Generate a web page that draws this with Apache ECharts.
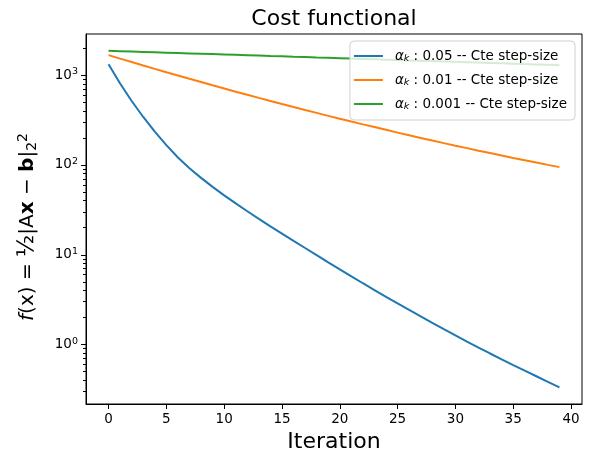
<!DOCTYPE html>
<html lang="en">
<head>
<meta charset="UTF-8">
<title>Cost functional</title>
<script src="https://cdn.jsdelivr.net/npm/echarts@6/dist/echarts.min.js"></script>
<style>
  body { margin: 0; background: #fff; }
  #chart { width: 591px; height: 463px; }
</style>
</head>
<body>
<div id="chart"></div>
<script>
// iteration index (x axis)
var iterations = [0, 1, 2, 3, 4, 5, 6, 7, 8, 9, 10, 11, 12, 13, 14, 15, 16, 17, 18, 19,
                  20, 21, 22, 23, 24, 25, 26, 27, 28, 29, 30, 31, 32, 33, 34, 35, 36, 37, 38, 39];

// cost for each step size
var cost005 = [1325, 807, 515, 342, 235, 166, 121, 92.0, 71.8, 57.0,
               45.9, 37.3, 30.5, 25.1, 20.7, 17.2, 14.3, 11.9, 9.89, 8.24,
               6.89, 5.75, 4.82, 4.05, 3.40, 2.87, 2.43, 2.06, 1.75, 1.49,
               1.27, 1.08, 0.927, 0.796, 0.686, 0.592, 0.512, 0.444, 0.385, 0.334];
var cost001 = [1671, 1528, 1399, 1281, 1175, 1078, 990, 910, 837, 770,
               710, 654, 604, 558, 516, 477, 442, 409, 380, 352,
               327, 304, 283, 264, 246, 229, 214, 200, 187, 175,
               164, 154, 144, 135.5, 127.4, 119.8, 112.8, 106.3, 100.2, 94.6];
var cost0001 = [1866, 1848, 1831, 1814, 1797, 1780, 1763, 1747, 1730, 1714,
                1698, 1682, 1666, 1651, 1635, 1620, 1604, 1589, 1574, 1560,
                1545, 1530, 1516, 1502, 1488, 1474, 1460, 1446, 1433, 1419,
                1406, 1393, 1380, 1367, 1354, 1341, 1328, 1316, 1304, 1292];

var seriesNames = ['0.05', '0.01', '0.001'];
var colors = ['#1f77b4', '#ff7f0e', '#2ca02c'];

var xTicks = [0, 5, 10, 15, 20, 25, 30, 35, 40];
var yTicks = [1, 10, 100, 1000];
var yMinorTicks = [0.3, 0.4, 0.5, 0.6, 0.7, 0.8, 0.9,
                   2, 3, 4, 5, 6, 7, 8, 9,
                   20, 30, 40, 50, 60, 70, 80, 90,
                   200, 300, 400, 500, 600, 700, 800, 900, 2000];

var font = 'DejaVu Sans';

function pairs(ys) {
    return iterations.map(function (x, i) { return [x, ys[i]]; });
}

var chart = echarts.init(document.getElementById('chart'));

var lineSeries = [cost005, cost001, cost0001].map(function (ys, i) {
    return {
        name: seriesNames[i],
        type: 'line',
        data: pairs(ys),
        showSymbol: false,
        symbol: 'none',
        lineStyle: { color: colors[i], width: 2 },
        itemStyle: { color: colors[i] },
        animation: false
    };
});

chart.setOption({
    animation: false,
    title: {
        text: 'Cost functional',
        left: 329,
        textAlign: 'center',
        top: 3,
        textStyle: { fontFamily: font, fontSize: 22, fontWeight: 'normal', color: '#000' }
    },
    grid: {
        left: 86, right: 9, top: 34, bottom: 59,
        show: true, borderColor: '#000', borderWidth: 1
    },
    legend: {
        orient: 'vertical',
        right: 16,
        top: 41,
        padding: [8, 8, 8, 4],
        itemGap: 9,
        itemWidth: 29,
        itemHeight: 2,
        icon: 'rect',
        backgroundColor: 'rgba(255,255,255,0.8)',
        borderColor: '#d0d0d0',
        borderWidth: 1,
        borderRadius: 4,
        formatter: function (name) {
            return '{a|\u03b1}{k|k}{t| : ' + name + ' -- Cte step-size}';
        },
        textStyle: {
            fontFamily: font,
            fontSize: 13.5,
            color: '#000',
            rich: {
                a: { fontFamily: font, fontSize: 13.5, fontStyle: 'italic', padding: [0, 0, 0, 7] },
                k: { fontFamily: font, fontSize: 9.5, fontStyle: 'italic', verticalAlign: 'bottom', padding: [6, 0, 0, 0] },
                t: { fontFamily: font, fontSize: 13.5 }
            }
        },
        data: seriesNames
    },
    xAxis: {
        type: 'value',
        min: -1.95,
        max: 40.95,
        name: 'Iteration',
        nameLocation: 'middle',
        nameGap: 26,
        nameTextStyle: { fontFamily: font, fontSize: 22, color: '#000' },
        axisLine: { show: true, onZero: false, lineStyle: { color: '#000' } },
        axisTick: { show: true, length: 5, customValues: xTicks, lineStyle: { color: '#000' } },
        axisLabel: { customValues: xTicks, margin: 8, fontFamily: font, fontSize: 13.5, color: '#000' },
        splitLine: { show: false }
    },
    yAxis: [{
        type: 'log',
        logBase: 10,
        min: 0.218,
        max: 2871,
        name: '{f|f}(x) = {fr|\u00bd}|A{b|x} \u2212 {b|b}|{sub|2}{sup|2}',
        nameLocation: 'middle',
        nameRotate: 90,
        nameGap: 47,
        nameTextStyle: {
            fontFamily: font, fontSize: 20, color: '#000',
            padding: [0, 16, 0, 0],
            rich: {
                f: { fontFamily: font, fontSize: 20, fontStyle: 'italic' },
                fr: { fontFamily: font, fontSize: 23 },
                b: { fontFamily: font, fontSize: 20, fontWeight: 'bold' },
                sub: { fontFamily: font, fontSize: 14, verticalAlign: 'bottom', padding: [9, 0, 0, 0] },
                sup: { fontFamily: font, fontSize: 14, verticalAlign: 'top', padding: [0, 0, 9, 0] }
            }
        },
        axisLine: { show: true, onZero: false, lineStyle: { color: '#000' } },
        axisTick: { show: true, length: 5, customValues: yTicks, lineStyle: { color: '#000' } },
        axisLabel: {
            customValues: yTicks,
            margin: 8,
            fontFamily: font,
            fontSize: 13.5,
            color: '#000',
            formatter: function (v) {
                return '{b|10}{e|' + Math.round(Math.log10(v)) + '}';
            },
            rich: {
                b: { fontFamily: font, fontSize: 13.5, color: '#000' },
                e: { fontFamily: font, fontSize: 9.5, color: '#000', verticalAlign: 'top', padding: [0, 0, 7, 0] }
            }
        },
        splitLine: { show: false }
    }, {
        type: 'log',
        logBase: 10,
        min: 0.218,
        max: 2871,
        position: 'left',
        axisLine: { show: false, onZero: false },
        axisTick: { show: true, length: 3, customValues: yMinorTicks, lineStyle: { color: '#000' } },
        axisLabel: { show: false },
        splitLine: { show: false }
    }],
    series: lineSeries
});
</script>
</body>
</html>
